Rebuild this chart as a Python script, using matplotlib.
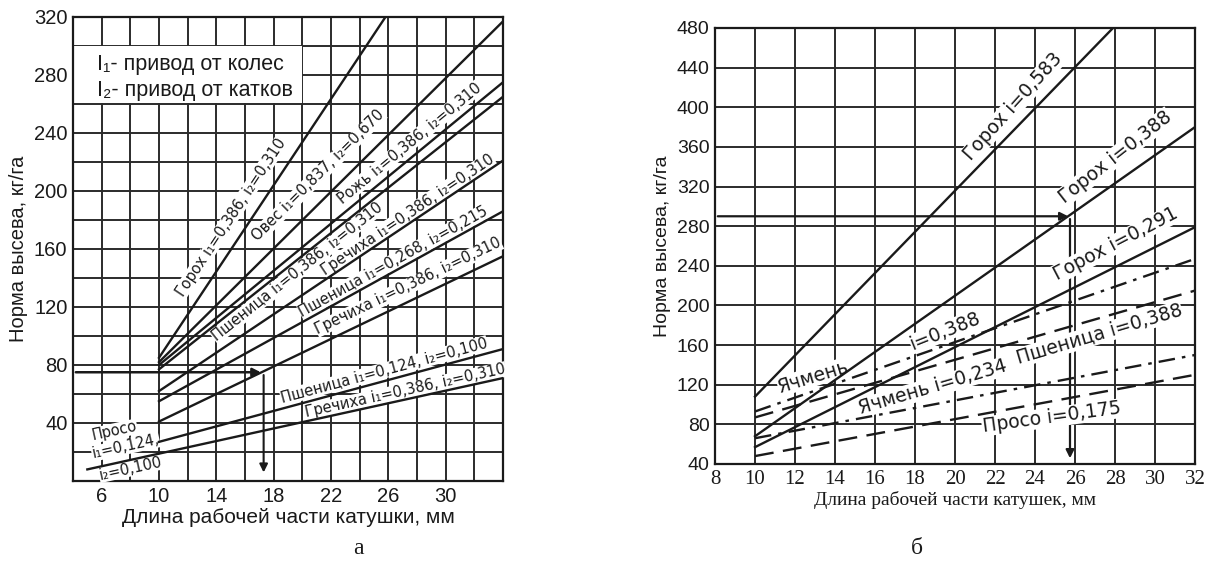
import numpy as np
import matplotlib.pyplot as plt
from matplotlib.patches import Rectangle

plt.rcParams['font.family'] = ['Liberation Sans', 'DejaVu Sans']

# ---- left chart (a): lines as (x0, y0) -> (x1, y1)
left_x0 = [10, 10, 10, 10, 10, 10, 10, 10, 5]
left_y0 = [85, 82, 80, 77, 62, 55, 41, 27, 8]
left_x1 = [25.8, 34, 34, 34, 34, 34, 34, 34, 34]
left_y1 = [320, 317, 275, 265, 221, 186, 155, 91, 71]

left_labels = ['Горох i₁=0,386, i₂=0,310', 'Овес i₁=0,837, i₂=0,670',
               'Рожь i₁=0,386, i₂=0,310', 'Пшеница i₁=0,386, i₂=0,310',
               'Гречиха i₁=0,386, i₂=0,310', 'Пшеница i₁=0,268, i₂=0,215',
               'Гречиха i₁=0,386, i₂=0,310', 'Пшеница i₁=0,124, i₂=0,100',
               'Гречиха i₁=0,386, i₂=0,310', 'Просо', 'i₁=0,124,', 'i₂=0,100']
left_label_line = [0, 1, 2, 3, 4, 5, 6, 7, 8, 8, 8, 8]
left_label_x = [11.7, 16.9, 22.8, 14.0, 21.6, 20.0, 21.1, 18.6, 20.3, 5.4, 5.4, 5.9]
left_label_y = [127, 165, 191, 96, 142, 113, 101, 54, 44, 28, 15.5, 0.8]

left_legend = ['I₁- привод от колес', 'I₂- привод от катков']

# ---- right chart (б)
right_x0 = [10, 10, 10, 10, 10, 10, 10]
right_y0 = [108, 68, 57, 93, 66, 87, 48]
right_x1 = [27.9, 32, 32, 32, 32, 32, 32]
right_y1 = [480, 380, 279, 247, 150, 215, 130]
right_style = ['-', '-', '-', 'dashdot', 'dashdot', 'dashed', 'dashed']

right_labels = ['Горох i=0,583', 'Горох i=0,388', 'Горох i=0,291', 'Ячмень',
                'i=0,388', 'Ячмень i=0,234', 'Пшеница i=0,388', 'Просо i=0,175']
right_label_x = [20.8, 25.5, 25.1, 11.25, 17.9, 15.25, 23.15, 21.4]
right_label_y = [345, 303, 225, 112, 155, 90, 141, 72]
right_label_rot = [48, 38, 27.5, 17, 21.8, 16.4, 16.5, 7.7]

ink = '#1a1a1a'
grid = '#2b2b2b'
label_font = ['DejaVu Sans']

fig = plt.figure(figsize=(12.11, 5.67), dpi=100)
axl = fig.add_axes([73 / 1211, 1 - 481 / 567, 430 / 1211, 464 / 567])
axr = fig.add_axes([715 / 1211, 1 - 464 / 567, 480 / 1211, 436 / 567])


def angle(ax, x0, y0, x1, y1):
    p0 = ax.transData.transform((x0, y0))
    p1 = ax.transData.transform((x1, y1))
    return np.degrees(np.arctan2(p1[1] - p0[1], p1[0] - p0[0]))


box = dict(boxstyle='square,pad=0.02', fc='white', ec='none')

# left chart
axl.set_xlim(4, 34)
axl.set_ylim(0, 320)
axl.set_xticks(range(6, 31, 4))
axl.set_xticks(range(4, 35, 2), minor=True)
axl.set_yticks(range(40, 321, 40))
axl.set_yticks(range(0, 321, 20), minor=True)
axl.set_axisbelow(True)
axl.grid(which='both', color=grid, lw=1.4)
axl.tick_params(which='both', length=0, labelsize=14.5, colors=ink, pad=4)
for s in axl.spines.values():
    s.set_color(ink)
    s.set_linewidth(1.6)
axl.add_patch(Rectangle((4, 261), 16, 39, fc='white', ec='none', zorder=1))
axl.text(5.7, 287, left_legend[0], fontsize=15.5, va='center', color=ink, zorder=3)
axl.text(5.7, 269.5, left_legend[1], fontsize=15.5, va='center', color=ink, zorder=3)

for x0, y0, x1, y1 in zip(left_x0, left_y0, left_x1, left_y1):
    axl.plot([x0, x1], [y0, y1], color=ink, lw=1.7, zorder=4)

for s, i, x, y in zip(left_labels, left_label_line, left_label_x, left_label_y):
    rot = angle(axl, left_x0[i], left_y0[i], left_x1[i], left_y1[i])
    axl.text(x, y, s, rotation=rot, rotation_mode='anchor', ha='left', va='baseline',
             fontsize=10.5, family=label_font, color=ink, zorder=3, bbox=box)

axl.annotate('', xy=(17.3, 75), xytext=(4, 75),
             arrowprops=dict(arrowstyle='-|>', color=ink, lw=1.8, mutation_scale=12), zorder=5)
axl.annotate('', xy=(17.3, 4), xytext=(17.3, 75),
             arrowprops=dict(arrowstyle='-|>', color=ink, lw=1.5, mutation_scale=12), zorder=5)
axl.set_xlabel('Длина рабочей части катушки, мм', fontsize=15, color=ink, labelpad=2)
axl.set_ylabel('Норма высева, кг/га', fontsize=14.5, color=ink, labelpad=4)

# right chart
axr.set_xlim(8, 32)
axr.set_ylim(40, 480)
axr.set_xticks(range(8, 33, 2))
axr.set_yticks(range(40, 481, 40))
axr.set_axisbelow(True)
axr.grid(which='both', color=grid, lw=1.4)
axr.tick_params(which='both', length=0, labelsize=14, colors=ink, pad=4)
for lab in axr.get_xticklabels():
    lab.set_fontfamily('Liberation Serif')
    lab.set_fontsize(15)
for s in axr.spines.values():
    s.set_color(ink)
    s.set_linewidth(1.6)

dashes = {'-': '-', 'dashdot': (0, (7, 3, 1.5, 3)), 'dashed': (0, (8, 4))}
for x0, y0, x1, y1, st in zip(right_x0, right_y0, right_x1, right_y1, right_style):
    axr.plot([x0, x1], [y0, y1], color=ink, lw=1.7, ls=dashes[st], zorder=4)

for s, x, y, rot in zip(right_labels, right_label_x, right_label_y, right_label_rot):
    axr.text(x, y, s, rotation=rot, rotation_mode='anchor', ha='left', va='baseline',
             fontsize=13.5, family=label_font, color=ink, zorder=3, bbox=box)

axr.annotate('', xy=(25.8, 290), xytext=(8, 290),
             arrowprops=dict(arrowstyle='-|>', color=ink, lw=1.6, mutation_scale=12), zorder=2.6)
axr.annotate('', xy=(25.75, 43), xytext=(25.75, 290),
             arrowprops=dict(arrowstyle='-|>', color=ink, lw=1.6, mutation_scale=12), zorder=2.6)
axr.set_xlabel('Длина рабочей части катушек, мм', fontsize=14, color=ink,
               fontfamily='Liberation Serif', labelpad=2)
axr.set_ylabel('Норма высева, кг/га', fontsize=14, color=ink, labelpad=4)

fig.text(358 / 1211, 1 - 548 / 567, 'а', fontsize=17, fontfamily='Liberation Serif',
         ha='center', va='center', color=ink)
fig.text(917 / 1211, 1 - 548 / 567, 'б', fontsize=17, fontfamily='Liberation Serif',
         ha='center', va='center', color=ink)

fig.savefig('out.png', dpi=100)
